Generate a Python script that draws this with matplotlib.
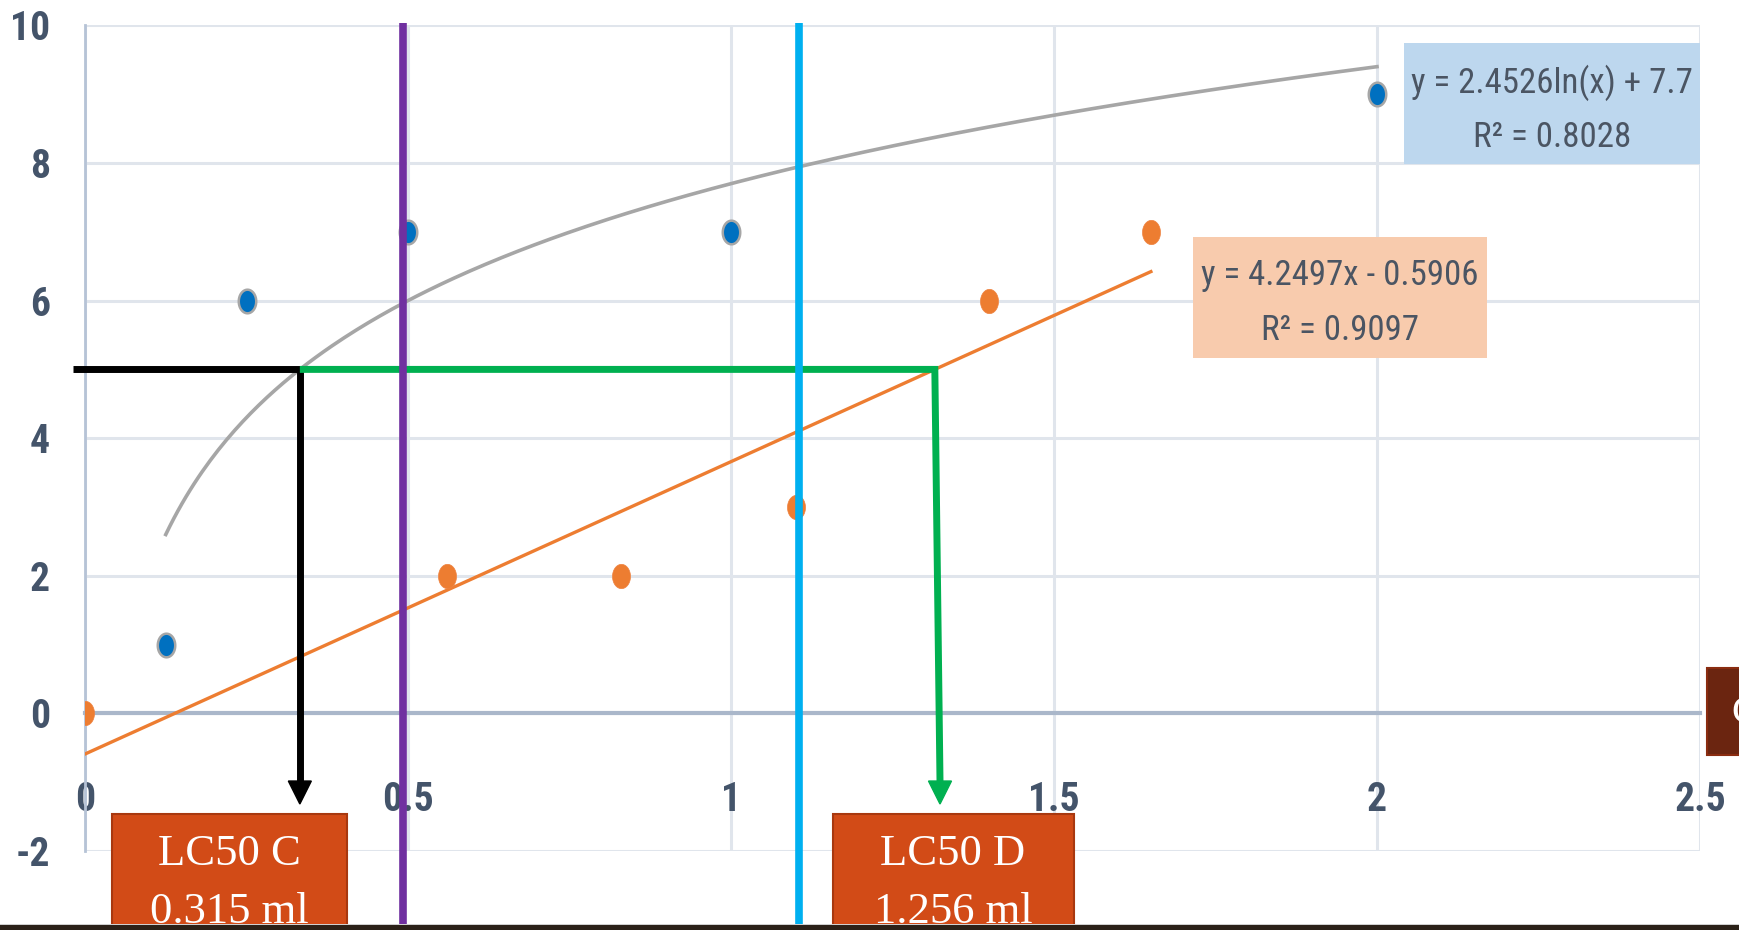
import matplotlib
matplotlib.use("Agg")
import matplotlib.pyplot as plt
import numpy as np
from matplotlib import font_manager
from matplotlib.path import Path
from matplotlib.patches import Rectangle, Polygon

plt.rcParams["axes.unicode_minus"] = False

W, H = 1739, 930

# series C (blue points, log trendline)
conc_c = [0.125, 0.25, 0.5, 1, 2]
mort_c = [1, 6, 7, 7, 9]
# series D (orange points, linear trendline)
conc_d = [0, 0.56, 0.83, 1.1, 1.4, 1.65]
mort_d = [0, 2, 2, 3, 6, 7]

# trendline coefficients as printed on the chart
log_fit = (2.4526, 7.7)
lin_fit = (4.2497, -0.5906)
eq_c = ["y = 2.4526ln(x) + 7.7", "R\u00b2 = 0.8028"]
eq_d = ["y = 4.2497x - 0.5906", "R\u00b2 = 0.9097"]

x_ticks = [0, 0.5, 1, 1.5, 2, 2.5]
x_labels = ["0", "0.5", "1", "1.5", "2", "2.5"]
y_ticks = [-2, 0, 2, 4, 6, 8, 10]

lc50_level = 5
lc50_c = ["LC50 C", "0.315 ml"]
lc50_d = ["LC50 D", "1.256 ml"]
purple_x = 0.492
cyan_x = 1.106

# pick the narrowest sans that is installed (the original is Calibri)
have = {f.name for f in font_manager.fontManager.ttflist}
narrow = next((n for n in ["Liberation Sans Narrow", "Roboto Condensed",
                           "Open Sans Condensed", "Roboto"] if n in have), "DejaVu Sans")
tick_font = [narrow, "DejaVu Sans"]
box_font = ["Liberation Serif", "DejaVu Serif"]


def fx(px):
    return px / W


def fy(py):
    return 1 - py / H


def box(x0, y0, x1, y1, fc, ec=None, lw=0):
    r = Rectangle((fx(x0), fy(y1)), (x1 - x0) / W, (y1 - y0) / H,
                  transform=fig.transFigure, facecolor=fc,
                  edgecolor=ec if ec else fc, linewidth=lw)
    fig.add_artist(r)


fig = plt.figure(figsize=(W / 100, H / 100), dpi=100)
fig.patch.set_facecolor("white")
renderer = fig.canvas.get_renderer()


def fit_size(s, width_px, **kw):
    # font size (pt) at which s is width_px wide
    t = fig.text(0, 0, s, fontsize=20, **kw)
    w = t.get_window_extent(renderer).width
    t.remove()
    return 20 * width_px / w


tick_size = fit_size("10", 40, family=tick_font, fontweight="bold")
eq_size = fit_size(eq_c[0], 282, family=tick_font)
lc_size = fit_size(lc50_c[1], 159, family=box_font)

ax = fig.add_axes([fx(85), fy(851), (1700 - 85) / W, (851 - 25.4) / H])
ax.set_xlim(0, 2.5)
ax.set_ylim(-2, 10)
ax.set_xticks(x_ticks, x_labels)
ax.set_yticks(y_ticks)
ax.set_axisbelow(True)
ax.grid(True, color="#e0e5ec", lw=2.2)
for s in ["top", "right"]:
    ax.spines[s].set_visible(False)
ax.spines["left"].set_color("#b6c3d6")
ax.spines["left"].set_linewidth(2)
ax.spines["bottom"].set_position(("data", 0))
ax.spines["bottom"].set_color("#aab7ca")
ax.spines["bottom"].set_linewidth(3)
digit_h = 0.72 * tick_size * 100 / 72
ax.tick_params(length=0, labelsize=tick_size, labelcolor="#44546a")
ax.tick_params(axis="x", pad=(82 - digit_h / 2) * 0.72)
ax.tick_params(axis="y", pad=35 * 0.72)
for lab in ax.get_xticklabels() + ax.get_yticklabels():
    lab.set_family(tick_font)
    lab.set_fontweight("bold")

# slightly tall ellipse markers, as in the picture
t = np.linspace(0, 2 * np.pi, 60)
ell = Path(np.column_stack([0.74 * np.cos(t), np.sin(t)]), closed=True)

# trendlines
xs = np.linspace(min(conc_c), max(conc_c), 300)
ax.plot(xs, log_fit[0] * np.log(xs) + log_fit[1], color="#a6a6a6", lw=2.6, zorder=3)
xl = np.array([0, max(conc_d)])
ax.plot(xl, lin_fit[0] * xl + lin_fit[1], color="#ed7d31", lw=2.4, zorder=3)

ax.plot(conc_c, mort_c, ls="none", marker=ell, ms=17, mfc="#0070c0",
        mec="#a6a6a6", mew=1.8, zorder=4)
ax.plot(conc_d, mort_d, ls="none", marker=ell, ms=17.5, mfc="#ed7d31",
        mec="#ee8240", mew=0.5, zorder=4)

# LC50 read-off lines
xc = np.exp((lc50_level - log_fit[1]) / log_fit[0])
xd = (lc50_level - lin_fit[1]) / lin_fit[0]
tip = -1.317
base = tip + 0.334
hw = 11.5 / 646

ax.plot([-0.019, xc, xc], [lc50_level, lc50_level, base], color="black",
        lw=5, solid_joinstyle="miter", solid_capstyle="butt", clip_on=False, zorder=5)
ax.add_patch(Polygon([(xc - hw, base), (xc + hw, base), (xc, tip)], closed=True,
                     color="black", clip_on=False, zorder=5))
ax.plot([xc, xd, xd + 0.008], [lc50_level, lc50_level, base], color="#00b050",
        lw=5, solid_joinstyle="miter", solid_capstyle="butt", clip_on=False, zorder=5)
ax.add_patch(Polygon([(xd + 0.008 - hw, base), (xd + 0.008 + hw, base), (xd + 0.008, tip)],
                     closed=True, color="#00b050", clip_on=False, zorder=5))

ax.plot([purple_x, purple_x], [10.035, -3.1], color="#7030a0", lw=5.5,
        solid_capstyle="butt", clip_on=False, zorder=6)
ax.plot([cyan_x, cyan_x], [10.035, -3.1], color="#00b0f0", lw=5.5,
        solid_capstyle="butt", clip_on=False, zorder=6)

# trendline equation labels
eq_style = dict(family=tick_font, fontsize=eq_size, color="#4b5563",
                ha="center", va="baseline")
box(1404, 43, 1700, 164, "#bdd7ee")
fig.text(fx(1552), fy(93), eq_c[0], **eq_style)
fig.text(fx(1552), fy(147), eq_c[1], **eq_style)
box(1193, 237, 1487, 358, "#f8cbad")
fig.text(fx(1340), fy(285), eq_d[0], **eq_style)
fig.text(fx(1340), fy(340), eq_d[1], **eq_style)

# LC50 result boxes
lc_style = dict(family=box_font, fontsize=lc_size, color="white",
                ha="center", va="baseline")
box(112, 814, 347, 935, "#d24b17", "#a8380f", 1.5)
fig.text(fx(229.5), fy(865), lc50_c[0], **lc_style)
fig.text(fx(229.5), fy(923), lc50_c[1], **lc_style)
box(833, 814, 1074, 935, "#d24b17", "#a8380f", 1.5)
fig.text(fx(953), fy(865), lc50_d[0], **lc_style)
fig.text(fx(953), fy(923), lc50_d[1], **lc_style)

# partly visible box at the right edge of the slide
box(1707, 668, 1745, 755, "#6b2510", "#8a2c10", 1.5)
fig.text(fx(1731), fy(723), "C", family=box_font, fontsize=lc_size * 0.9,
         color="white", ha="left", va="baseline")

# dark photo strip along the bottom of the slide
box(0, 924, W, 925.5, "#d0d0d0")
box(0, 925.5, W, 931, "#2b2118")

fig.savefig("out.png", dpi=100, facecolor="white")
